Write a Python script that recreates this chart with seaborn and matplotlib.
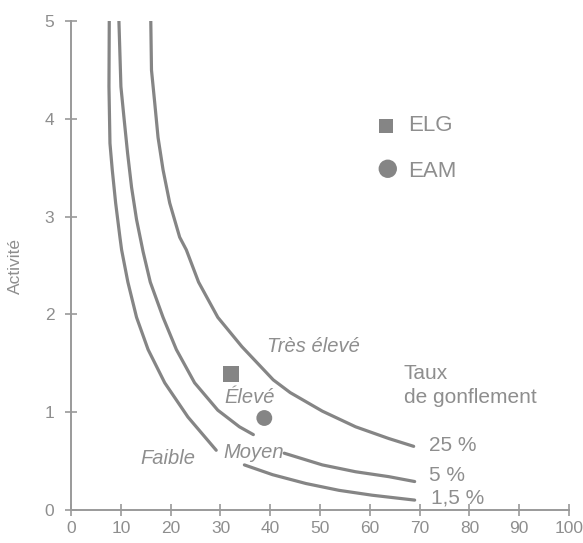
import matplotlib
matplotlib.use("Agg")
import matplotlib.pyplot as plt
import seaborn as sns
import pandas as pd

# Swelling-potential boundary curves (clay fraction % vs. activity).
# Each curve is drawn in two pieces, broken where the "Moyen" label sits.
curve_15_upper_x = [7.66, 7.6, 7.8, 8.26, 8.94, 9.8, 10.14, 11.4, 13.14, 15.46, 18.8, 23.46, 26.8, 29.14]
curve_15_upper_y = [5.0, 4.33, 3.75, 3.48, 3.14, 2.79, 2.66, 2.33, 1.97, 1.64, 1.30, 0.95, 0.75, 0.61]
curve_15_lower_x = [34.8, 40.46, 47.14, 53.8, 60.46, 69.0]
curve_15_lower_y = [0.46, 0.36, 0.27, 0.20, 0.15, 0.10]

curve_5_upper_x = [9.6, 10.0, 10.66, 11.34, 12.14, 13.14, 14.46, 15.9, 18.46, 21.14, 24.8, 29.46, 33.8, 36.6]
curve_5_upper_y = [5.0, 4.33, 3.99, 3.65, 3.30, 2.97, 2.64, 2.33, 1.97, 1.64, 1.30, 1.02, 0.85, 0.77]
curve_5_lower_x = [42.8, 50.46, 57.14, 63.8, 69.0]
curve_5_lower_y = [0.58, 0.46, 0.39, 0.34, 0.29]

curve_25_x = [16.0, 16.14, 16.8, 17.46, 18.46, 19.8, 21.8, 23.14, 25.6, 29.46, 34.3, 40.6, 44.0, 50.46, 57.14, 63.8, 68.8]
curve_25_y = [5.0, 4.5, 4.16, 3.81, 3.48, 3.14, 2.79, 2.66, 2.33, 1.97, 1.67, 1.33, 1.20, 1.01, 0.85, 0.73, 0.65]

curve_labels = ["1,5 %", "5 %", "25 %"]

# Samples
sample_names = ["ELG", "EAM"]
sample_x = [32.1, 38.8]
sample_y = [1.39, 0.94]

zone_names = ["Faible", "Moyen", "Élevé", "Très élevé"]

x_ticks = [0, 10, 20, 30, 40, 50, 60, 70, 80, 90, 100]
y_ticks = [0, 1, 2, 3, 4, 5]

GREY = "#858585"
TEXT = "#8e8e8e"
AXIS = "#9a9a9a"

sns.set_theme(style="white")
plt.rcParams["font.family"] = ["Liberation Sans", "DejaVu Sans"]

fig = plt.figure(figsize=(5.83, 5.43), dpi=100)
ax = fig.add_axes([0.122, 0.061, 0.854, 0.9])

pieces = [
    (curve_15_upper_x, curve_15_upper_y, "1,5 % a"),
    (curve_15_lower_x, curve_15_lower_y, "1,5 % b"),
    (curve_5_upper_x, curve_5_upper_y, "5 % a"),
    (curve_5_lower_x, curve_5_lower_y, "5 % b"),
    (curve_25_x, curve_25_y, "25 %"),
]
curves = pd.concat([pd.DataFrame({"x": px, "y": py, "piece": name}) for px, py, name in pieces])
sns.lineplot(data=curves, x="x", y="y", units="piece", estimator=None, sort=False,
             color=GREY, linewidth=2.3, ax=ax, zorder=2)

samples = pd.DataFrame({"x": sample_x, "y": sample_y, "name": sample_names})
sns.scatterplot(data=samples, x="x", y="y", style="name", markers={"ELG": "s", "EAM": "o"},
                s=130, color=GREY, edgecolor="none", legend=False, ax=ax, zorder=4)

# Marker key
ax.scatter([63.2], [3.93], marker="s", s=105, color=GREY, edgecolor="none", zorder=4)
ax.scatter([63.6], [3.49], marker="o", s=175, color=GREY, edgecolor="none", zorder=4)
ax.text(67.6, 3.93, sample_names[0], fontsize=16, color=TEXT, va="center", ha="left")
ax.text(67.6, 3.46, sample_names[1], fontsize=16, color=TEXT, va="center", ha="left")

# Zone labels
zone_kw = dict(fontsize=14.5, style="italic", color=TEXT, ha="center", va="center", zorder=3)
ax.text(19.4, 0.53, zone_names[0], **zone_kw)
ax.text(36.6, 0.59, zone_names[1], **zone_kw)
ax.text(35.8, 1.15, zone_names[2], **zone_kw)
ax.text(48.6, 1.67, zone_names[3], **zone_kw)

# Curve annotations
lab_kw = dict(fontsize=15, color=TEXT, ha="left", va="center")
ax.text(66.8, 1.40, "Taux", **lab_kw)
ax.text(66.8, 1.15, "de gonflement", **lab_kw)
ax.text(71.8, 0.66, curve_labels[2], **lab_kw)
ax.text(71.8, 0.35, curve_labels[1], **lab_kw)
ax.text(72.2, 0.12, curve_labels[0], **lab_kw)

ax.set_xlim(0, 100)
ax.set_ylim(0, 5)
ax.set_xticks(x_ticks)
ax.set_yticks(y_ticks)
ax.set_xlabel("")
ax.set_ylabel("Activité", fontsize=12.5, color=TEXT, labelpad=16)

for side in ["top", "right"]:
    ax.spines[side].set_visible(False)
for side in ["left", "bottom"]:
    ax.spines[side].set_color(AXIS)
    ax.spines[side].set_linewidth(1.4)
ax.tick_params(axis="both", direction="inout", length=8, width=1.2, colors=AXIS,
               labelcolor=TEXT, labelsize=12.5, pad=4, left=True, bottom=True)
ax.tick_params(axis="y", pad=8)

fig.savefig("out.png", dpi=100, facecolor="white")
